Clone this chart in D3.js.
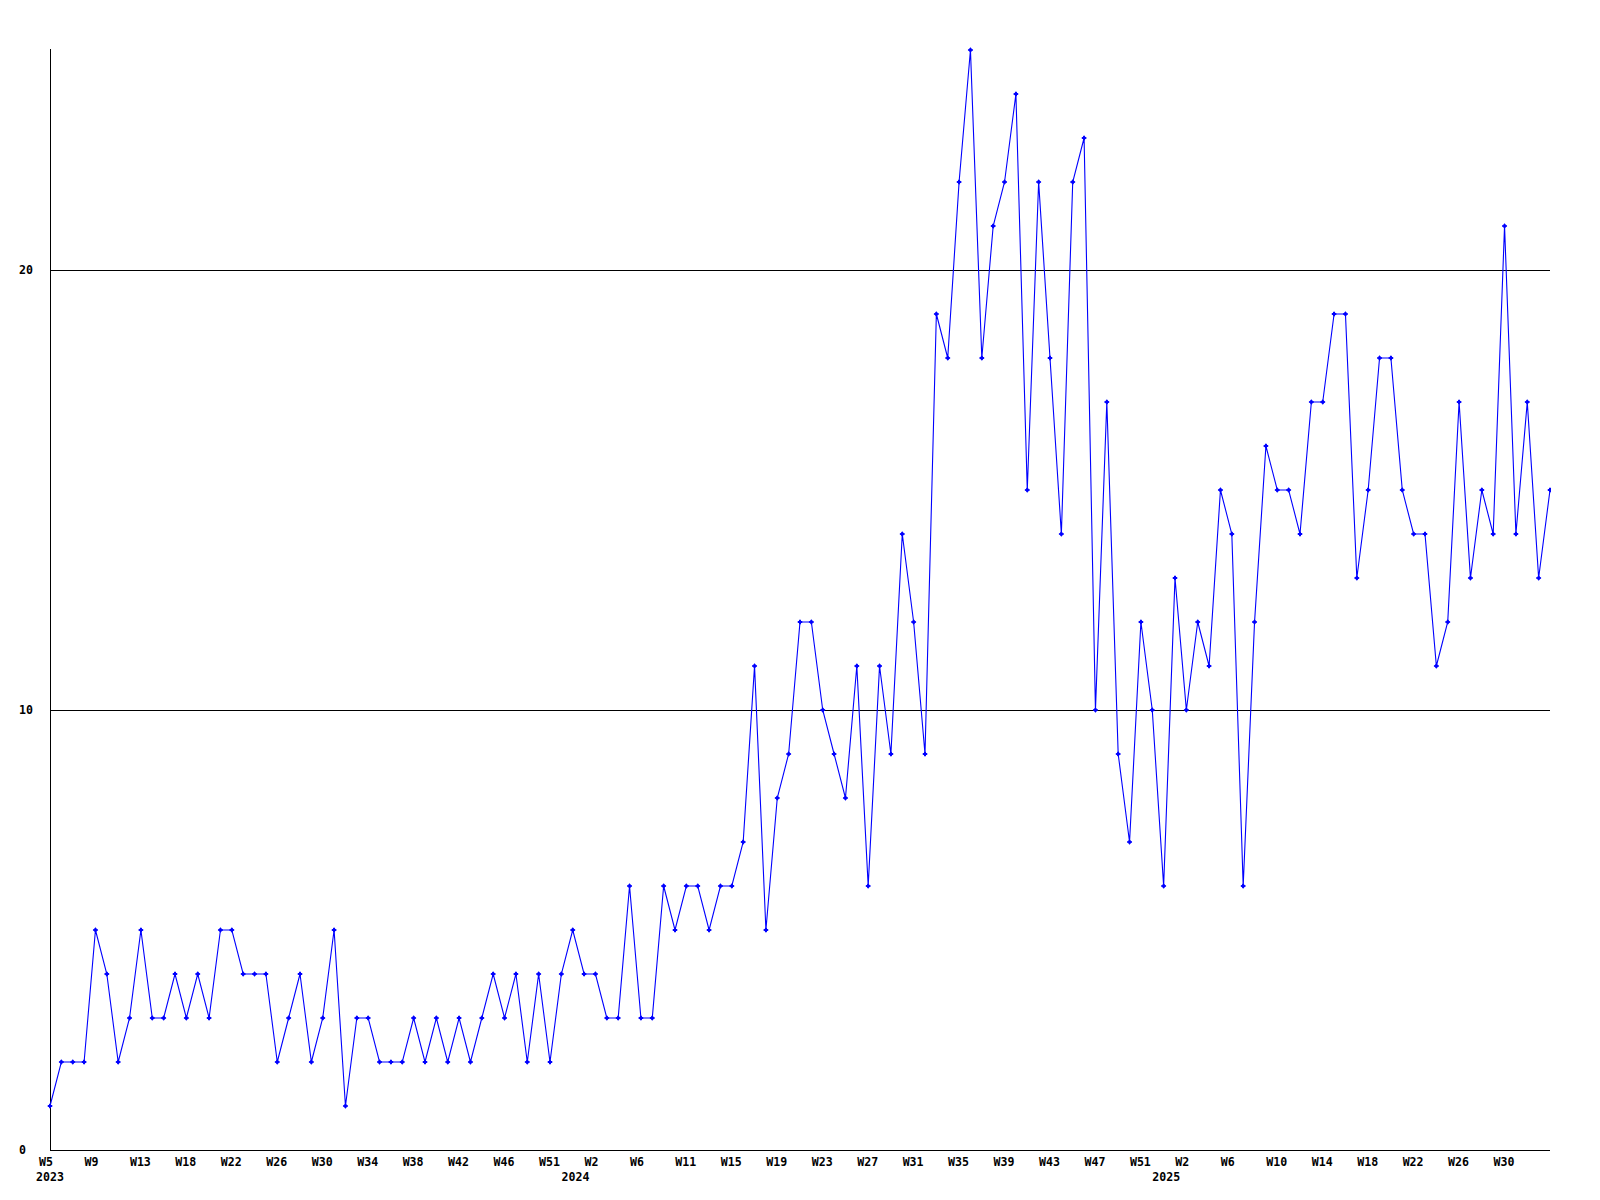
<!DOCTYPE html>
<html>
<head>
<meta charset="utf-8">
<script src="https://cdn.jsdelivr.net/npm/d3@7"></script>
<style>
  html, body { margin: 0; padding: 0; background: #ffffff; }
  svg { display: block; }
  text { font-family: "DejaVu Sans Mono", "Liberation Mono", monospace; font-weight: bold; font-size: 11.6px; fill: #000; }
</style>
</head>
<body>
<svg id="chart" width="1600" height="1200"></svg>
<script>
(function () {
// ---- data ----
const startYear = 2023;
const startWeek = 5;
const weeksPerYear = { 2023: 52, 2024: 52, 2025: 52 };

const values = [
  1, 2, 2, 2, 5, 4, 2, 3, 5, 3, 3, 4, 3, 4, 3, 5, 5, 4, 4, 4,
  2, 3, 4, 2, 3, 5, 1, 3, 3, 2, 2, 2, 3, 2, 3, 2, 3, 2, 3, 4,
  3, 4, 2, 4, 2, 4, 5, 4, 4, 3, 3, 6, 3, 3, 6, 5, 6, 6, 5, 6,
  6, 7, 11, 5, 8, 9, 12, 12, 10, 9, 8, 11, 6, 11, 9, 14, 12, 9, 19, 18,
  22, 25, 18, 21, 22, 24, 15, 22, 18, 14, 22, 23, 10, 17, 9, 7, 12, 10, 6, 13,
  10, 12, 11, 15, 14, 6, 12, 16, 15, 15, 14, 17, 17, 19, 19, 13, 15, 18, 18, 15,
  14, 14, 11, 12, 17, 13, 15, 14, 21, 14, 17, 13, 15
];

// categories: ISO year/week of each point
const categories = [];
{
  let yr = startYear, w = startWeek;
  for (let i = 0; i < values.length; i++) {
    categories.push({ year: yr, week: w });
    w++;
    if (w > weeksPerYear[yr]) { w = 1; yr++; }
  }
}

const xTickLabels = [
  "W5", "W9", "W13", "W18", "W22", "W26", "W30", "W34", "W38", "W42", "W46", "W51",
  "W2", "W6", "W11", "W15", "W19", "W23", "W27", "W31", "W35", "W39", "W43", "W47", "W51",
  "W2", "W6", "W10", "W14", "W18", "W22", "W26", "W30"
];
const yTickValues = [0, 10, 20];
const yearLabels = ["2023", "2024", "2025"];

// ---- layout ----
const mLeft = 50, mRight = 1550, mTop = 50, mBottom = 1150;
const svg = d3.select("#chart");
svg.append("rect").attr("width", 1600).attr("height", 1200).attr("fill", "#fff");

const x = d3.scaleLinear().domain([0, values.length - 1]).range([mLeft, mRight]);
const y = d3.scaleLinear().domain([0, 25]).range([mBottom, mTop]);

// grid lines
svg.append("g").selectAll("line")
  .data(yTickValues.filter(v => v > 0))
  .join("line")
  .attr("x1", mLeft).attr("x2", mRight)
  .attr("y1", d => Math.round(y(d)) + 0.5).attr("y2", d => Math.round(y(d)) + 0.5)
  .attr("stroke", "#000").attr("stroke-width", 1).attr("shape-rendering", "crispEdges");

// axes
svg.append("line").attr("x1", mLeft + 0.5).attr("x2", mLeft + 0.5).attr("y1", mTop - 1).attr("y2", mBottom)
  .attr("stroke", "#000").attr("shape-rendering", "crispEdges");
svg.append("line").attr("x1", mLeft).attr("x2", mRight).attr("y1", mBottom + 0.5).attr("y2", mBottom + 0.5)
  .attr("stroke", "#000").attr("shape-rendering", "crispEdges");

// y tick labels
svg.append("g").selectAll("text")
  .data(yTickValues)
  .join("text")
  .attr("x", 19)
  .attr("y", d => y(d) + 4)
  .text(d => d);

// x tick labels (every 4 points, left-aligned slightly before the point)
svg.append("g").selectAll("text")
  .data(xTickLabels)
  .join("text")
  .attr("x", (d, i) => x(i * 4) - 11)
  .attr("y", mBottom + 16)
  .text(d => d);

// year labels
const yearStarts = yearLabels.map(yl => {
  const idx = categories.findIndex(c => String(c.year) === yl);
  return { yl, idx };
});
svg.append("g").selectAll("text")
  .data(yearStarts)
  .join("text")
  .attr("x", d => d.idx === 0 ? x(0) - 14 : x(d.idx) - 34)
  .attr("y", mBottom + 31)
  .text(d => d.yl);

// line
const line = d3.line().x((d, i) => x(i)).y(d => y(d));
svg.append("path")
  .datum(values)
  .attr("d", line)
  .attr("fill", "none")
  .attr("stroke", "#0000ff")
  .attr("stroke-width", 1.1);

// markers
svg.append("clipPath").attr("id", "clip").append("rect")
  .attr("x", 0).attr("y", 0).attr("width", mRight + 1).attr("height", 1200);
const mk = svg.append("g").attr("clip-path", "url(#clip)");
mk.selectAll("path")
  .data(values)
  .join("path")
  .attr("transform", (d, i) => `translate(${x(i)},${y(d)})`)
  .attr("d", "M0,-2L2,0L0,2L-2,0Z M-2.5,0H2.5 M0,-2.5V2.5")
  .attr("fill", "#0000ff")
  .attr("stroke", "#0000ff")
  .attr("stroke-width", 1);
})();
</script>
</body>
</html>
